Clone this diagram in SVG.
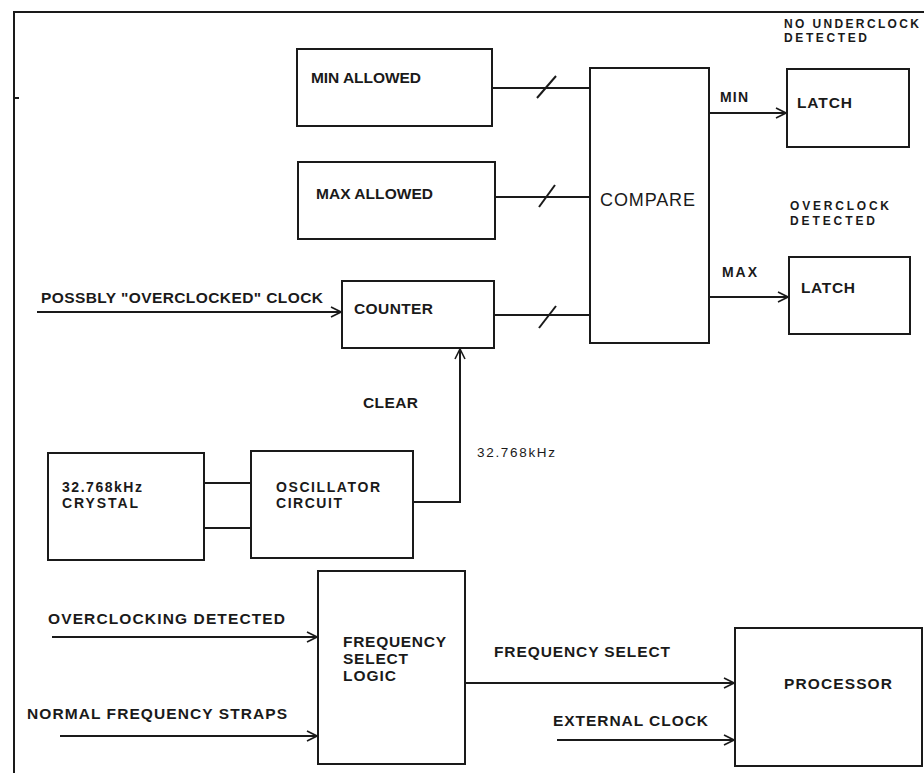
<svg xmlns="http://www.w3.org/2000/svg" width="924" height="773" viewBox="0 0 924 773">
<defs>
<marker id="arr" viewBox="0 0 12 12" refX="11" refY="6" markerWidth="12" markerHeight="12" markerUnits="userSpaceOnUse" orient="auto">
<path d="M1,1 L11,6 L1,11" fill="none" stroke="#1a1a1a" stroke-width="1.6"/>
</marker>
<style>
.box{fill:#fff;stroke:#1a1a1a;stroke-width:2}
.ln{fill:none;stroke:#1a1a1a;stroke-width:2}
.t{font-family:"Liberation Sans",Arial,sans-serif;font-weight:bold;font-size:15.5px;fill:#1a1a1a}
.s{font-family:"Liberation Sans",Arial,sans-serif;font-weight:bold;font-size:14px;fill:#1a1a1a}
.n{font-family:"Liberation Sans",Arial,sans-serif;font-weight:bold;font-size:12px;fill:#1a1a1a}
.big{font-family:"Liberation Sans",Arial,sans-serif;font-size:18px;fill:#1a1a1a}
.hz{font-family:"Liberation Sans",Arial,sans-serif;font-size:13.5px;fill:#1a1a1a}
</style>
</defs>
<rect width="924" height="773" fill="#fff"/>
<g id="frame">
<path class="ln" d="M14,773 L14,12 L924,12"/>
<path class="ln" d="M14,98 L19,98"/>
</g>
<g id="connectors">
<path class="ln" d="M492,88 L590,88"/>
<path class="ln" d="M537,98 L556,76"/>
<path class="ln" d="M495,197 L590,197"/>
<path class="ln" d="M539,207 L555,185"/>
<path class="ln" d="M494,315 L590,315"/>
<path class="ln" d="M539,328 L556,306"/>
<path class="ln" d="M37,312 L341,312" marker-end="url(#arr)"/>
<path class="ln" d="M413,502 L460,502 L460,349" marker-end="url(#arr)"/>
<path class="ln" d="M709,113 L786,113" marker-end="url(#arr)"/>
<path class="ln" d="M709,297 L788,297" marker-end="url(#arr)"/>
<path class="ln" d="M204,483 L251,483"/>
<path class="ln" d="M204,528 L251,528"/>
<path class="ln" d="M52,637 L317,637" marker-end="url(#arr)"/>
<path class="ln" d="M60,736 L317,736" marker-end="url(#arr)"/>
<path class="ln" d="M465,683 L734,683" marker-end="url(#arr)"/>
<path class="ln" d="M557,740 L734,740" marker-end="url(#arr)"/>
</g>
<g id="min-allowed">
<rect class="box" x="297" y="49" width="195" height="77"/>
<text class="t" x="311" y="83" textLength="110">MIN ALLOWED</text>
</g>
<g id="max-allowed">
<rect class="box" x="298" y="162" width="197" height="77"/>
<text class="t" x="316" y="199" textLength="117">MAX ALLOWED</text>
</g>
<g id="counter">
<rect class="box" x="342" y="281" width="152" height="67"/>
<text class="t" x="354" y="314" textLength="79">COUNTER</text>
</g>
<g id="compare">
<rect class="box" x="590" y="68" width="119" height="275"/>
<text class="big" x="600" y="206" textLength="95">COMPARE</text>
</g>
<g id="latch-min">
<rect class="box" x="787" y="69" width="122" height="78"/>
<text class="t" x="797" y="108" textLength="55">LATCH</text>
</g>
<g id="latch-max">
<rect class="box" x="789" y="257" width="121" height="77"/>
<text class="t" x="801" y="293" textLength="54">LATCH</text>
</g>
<g id="crystal">
<rect class="box" x="48" y="453" width="156" height="107"/>
<text class="s" x="62" y="492" textLength="80">32.768kHz</text>
<text class="s" x="62" y="508" textLength="76">CRYSTAL</text>
</g>
<g id="oscillator">
<rect class="box" x="251" y="451" width="162" height="107"/>
<text class="s" x="276" y="492" textLength="104">OSCILLATOR</text>
<text class="s" x="276" y="508" textLength="66">CIRCUIT</text>
</g>
<g id="freq-select-logic">
<rect class="box" x="318" y="571" width="147" height="193"/>
<text class="t" x="343" y="647" textLength="103">FREQUENCY</text>
<text class="t" x="343" y="664" textLength="65">SELECT</text>
<text class="t" x="343" y="681" textLength="53">LOGIC</text>
</g>
<g id="processor">
<rect class="box" x="735" y="628" width="187" height="138"/>
<text class="t" x="784" y="689" textLength="108">PROCESSOR</text>
</g>
<g id="labels">
<text class="t" x="41" y="303" textLength="282">POSSBLY "OVERCLOCKED" CLOCK</text>
<text class="t" x="363" y="408" textLength="55">CLEAR</text>
<text class="hz" x="477" y="457" textLength="78">32.768kHz</text>
<text class="s" x="720" y="102" textLength="28">MIN</text>
<text class="s" x="722" y="277" textLength="35">MAX</text>
<text class="n" x="784" y="27.5" textLength="135">NO UNDERCLOCK</text>
<text class="n" x="784" y="42" textLength="83">DETECTED</text>
<text class="n" x="790" y="209.5" textLength="99">OVERCLOCK</text>
<text class="n" x="790" y="225" textLength="85">DETECTED</text>
<text class="t" x="48" y="624" textLength="237">OVERCLOCKING DETECTED</text>
<text class="t" x="27" y="719" textLength="260">NORMAL FREQUENCY STRAPS</text>
<text class="t" x="494" y="657" textLength="176">FREQUENCY SELECT</text>
<text class="t" x="553" y="726" textLength="155">EXTERNAL CLOCK</text>
</g>
</svg>
